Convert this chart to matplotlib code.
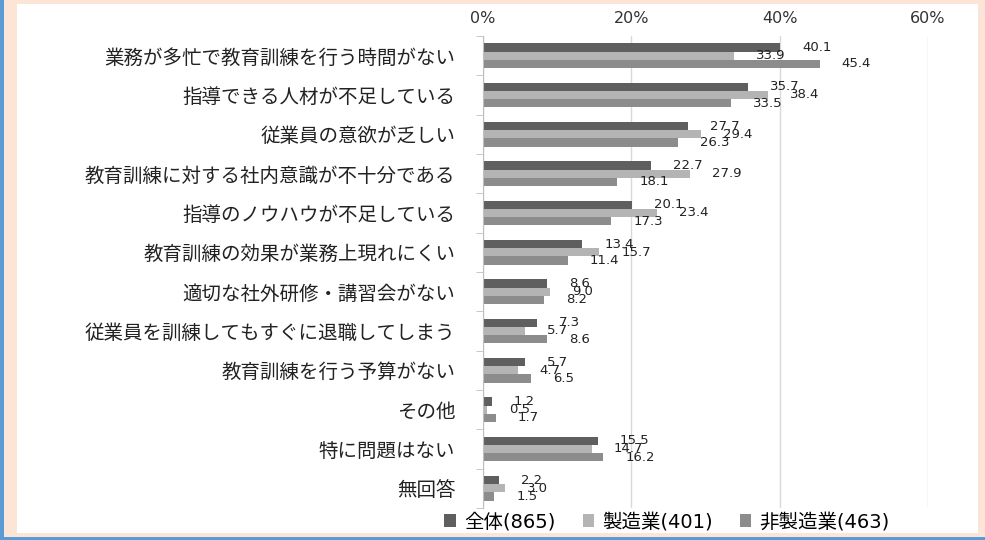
import matplotlib.pyplot as plt
import matplotlib.patches as mpatches
import numpy as np

plt.rcParams['font.family'] = ['Noto Sans CJK JP', 'DejaVu Sans']

categories = ['業務が多忙で教育訓練を行う時間がない', '指導できる人材が不足している', '従業員の意欲が乏しい',
              '教育訓練に対する社内意識が不十分である', '指導のノウハウが不足している', '教育訓練の効果が業務上現れにくい',
              '適切な社外研修・講習会がない', '従業員を訓練してもすぐに退職してしまう', '教育訓練を行う予算がない',
              'その他', '特に問題はない', '無回答']
total = [40.1, 35.7, 27.7, 22.7, 20.1, 13.4, 8.6, 7.3, 5.7, 1.2, 15.5, 2.2]
manuf = [33.9, 38.4, 29.4, 27.9, 23.4, 15.7, 9.0, 5.7, 4.7, 0.5, 14.7, 3.0]
nonmanuf = [45.4, 33.5, 26.3, 18.1, 17.3, 11.4, 8.2, 8.6, 6.5, 1.7, 16.2, 1.5]
series = ['全体(865)', '製造業(401)', '非製造業(463)']
colors = ['#5f5f5f', '#b4b4b4', '#8c8c8c']
xticks = [0, 20, 40, 60]

fig = plt.figure(figsize=(9.85, 5.4), dpi=100)
fig.patch.set_facecolor('#fce4d6')
# white panel + blue edge strips
fig.patches.append(mpatches.Rectangle((17 / 985, 7 / 540), 961 / 985, 529 / 540, transform=fig.transFigure,
                                      facecolor='white', edgecolor='none', zorder=0))
fig.patches.append(mpatches.Rectangle((0, 0), 4 / 985, 1, transform=fig.transFigure,
                                      facecolor='#5b9bd5', edgecolor='none', zorder=1))
fig.patches.append(mpatches.Rectangle((0, 0), 1, 3 / 540, transform=fig.transFigure,
                                      facecolor='#5b9bd5', edgecolor='none', zorder=1))

ax = fig.add_axes([483 / 985, 32 / 540, 445 / 985, 472 / 540])
ax.set_zorder(5)
ax.set_facecolor('none')
n = len(categories)
y = np.arange(n)
h = 0.21
for i, (vals, c, lab) in enumerate(zip([total, manuf, nonmanuf], colors, series)):
    pos = y + (i - 1) * h
    ax.barh(pos, vals, height=h, color=c, label=lab, zorder=2)
    for p, v in zip(pos, vals):
        ax.annotate(f'{v:.1f}', (v, p), xytext=(22, 0), textcoords='offset pixels',
                    ha='left', va='center', fontsize=9.5, color='#222222', family='DejaVu Sans')

ax.set_xlim(0, 60)
ax.set_ylim(n - 0.5, -0.5)
ax.set_xticks(xticks)
ax.set_xticklabels([f'{t}%' for t in xticks], fontsize=11.5, color='#333333', family='DejaVu Sans')
ax.xaxis.tick_top()
ax.tick_params(axis='x', length=0, pad=7)
ax.grid(axis='x', color='#d9d9d9', lw=1, zorder=0)
ax.set_yticks(y)
ax.set_yticklabels(categories, fontsize=14, color='#222222')
ax.set_yticks(np.arange(n + 1) - 0.5, minor=True)
ax.tick_params(axis='y', which='major', length=0, pad=20)
ax.tick_params(axis='y', which='minor', length=5, color='#bfbfbf')
for s in ['top', 'right', 'bottom']:
    ax.spines[s].set_visible(False)
ax.spines['left'].set_color('#bfbfbf')

leg = fig.legend(loc='center', bbox_to_anchor=(667 / 985, 1 - 522 / 540), ncol=3, frameon=False,
                 prop={'family': ['DejaVu Sans', 'Noto Sans CJK JP'], 'size': 14},
                 handlelength=0.6, handleheight=0.6, handletextpad=0.4, columnspacing=1.4)
leg.set_zorder(6)

plt.savefig('out.png', dpi=100, facecolor=fig.get_facecolor())
